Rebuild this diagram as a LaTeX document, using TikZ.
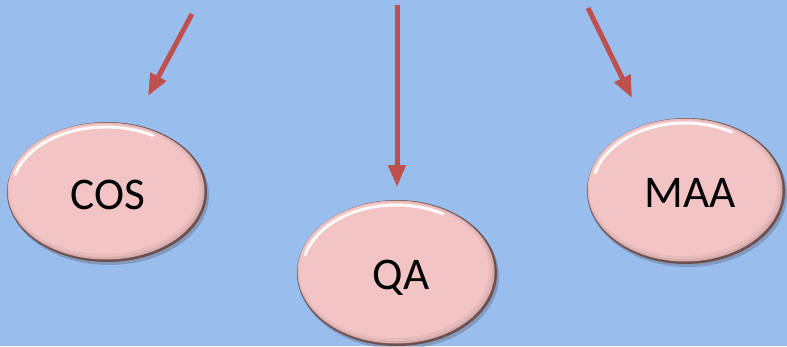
\documentclass[tikz,border=0pt]{standalone}
\usepackage{fontspec}
\setmainfont{Carlito}
\usetikzlibrary{arrows.meta,shapes.geometric,calc}
\definecolor{bg}{RGB}{153,190,238}
\definecolor{pinkfill}{RGB}{242,196,196}
\definecolor{rim}{RGB}{110,80,80}
\definecolor{arr}{RGB}{192,80,77}
\tikzset{
  bubble/.style={ellipse, minimum width=200*0.75pt, minimum height=144*0.75pt, inner sep=0pt},
  label/.style={font=\fontsize{34}{38}\selectfont},
  redarrow/.style={draw=arr, line width=5*0.75pt, -{Triangle[width=17*0.75pt,length=22*0.75pt]}}
}
\newcommand{\bubbleshape}[4]{% x y rx ry
  \fill[rim!60!black, opacity=0.25] (#1+2,#2+3) ellipse [x radius=#3, y radius=#4];
  \fill[rim] (#1,#2) ellipse [x radius=#3, y radius=#4];
  \fill[pinkfill!80!rim] (#1-1,#2-1) ellipse [x radius=#3-1.5, y radius=#4-1.5];
  \fill[pinkfill!92!rim] (#1-2,#2-2) ellipse [x radius=#3-3, y radius=#4-3];
  \fill[pinkfill] (#1-3,#2-3) ellipse [x radius=#3-5, y radius=#4-5];
  \draw[white, line width=3*0.75pt, opacity=0.9, line cap=round] ($(#1-1,#2-1)+(195:#3-6 and #4-6)$) arc[start angle=195, end angle=300, x radius=#3-6, y radius=#4-6];
}
\begin{document}
\begin{tikzpicture}[x=0.75pt,y=-0.75pt]
\fill[bg] (0,0) rectangle (787,346);
\useasboundingbox (0,0) rectangle (787,346);
% bubbles
\bubbleshape{107}{192}{100}{70}
\bubbleshape{397}{273}{100}{73}
\bubbleshape{686}{191}{99}{73}
\node[bubble] (cos) at (107,192) {};
\node[bubble] (qa) at (397,273) {};
\node[bubble] (maa) at (686,191) {};
\node[label] (cost) at (108,195) {COS};
\node[label] (qat) at (401,278) {QA};
\node[label] (maat) at (690,193) {MAA};
% arrows
\coordinate (a1s) at (192,14);
\coordinate (a1e) at (148,96);
\coordinate (a2s) at (397,5);
\coordinate (a2e) at (397,187);
\coordinate (a3s) at (588,8);
\coordinate (a3e) at (632,98);
\draw[redarrow] (a1s) -- (a1e);
\draw[redarrow] (a2s) -- (a2e);
\draw[redarrow] (a3s) -- (a3e);
\end{tikzpicture}
\end{document}
